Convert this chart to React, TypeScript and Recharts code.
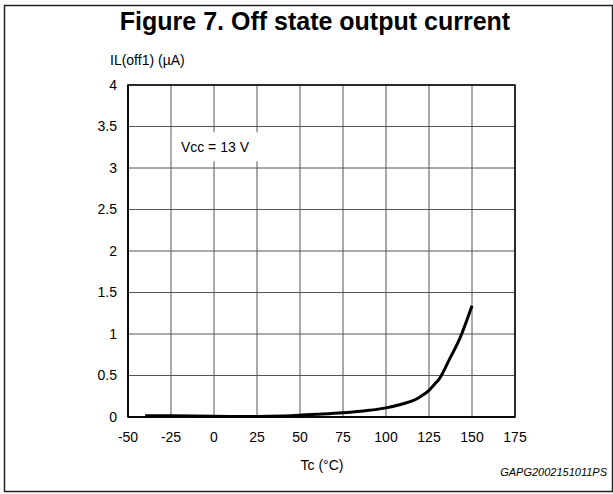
import React from 'react';
import { ComposedChart, Line, XAxis, YAxis, CartesianGrid, ReferenceArea } from 'recharts';

const temperatures = [-40, -25, 0, 25, 40, 50, 60, 75, 90, 100, 110, 116, 120, 125, 128, 131, 137, 143, 150];
const currents = [0.015, 0.014, 0.008, 0.006, 0.012, 0.022, 0.032, 0.05, 0.08, 0.11, 0.16, 0.2, 0.245, 0.32, 0.39, 0.46, 0.7, 0.95, 1.34];
const xTicks = [-50, -25, 0, 25, 50, 75, 100, 125, 150, 175];
const yTicks = [0, 0.5, 1, 1.5, 2, 2.5, 3, 3.5, 4];

const title = 'Figure 7. Off state output current';
const yLabel = 'IL(off1) (µA)';
const xLabel = 'Tc (°C)';
const code = 'GAPG2002151011PS';
const note = 'Vcc = 13 V';

const data = temperatures.map((t, i) => ({ t, v: currents[i] }));
const FONT = '"Liberation Sans", Arial, sans-serif';

export default function App() {
  return (
    <div style={{ position: 'absolute', left: 0, top: 0, width: 613, height: 494, background: '#fff', fontFamily: FONT }}>
      <svg width={613} height={494} style={{ position: 'absolute', left: 0, top: 0 }}>
        <rect x={4.5} y={5.5} width={608} height={486} fill="#fff" stroke="#222" strokeWidth={1.5} />
        <text x={315} y={30} textAnchor="middle" fontFamily={FONT} fontWeight="bold" fontSize={25} fill="#000">{title}</text>
        <text x={110} y={65} fontFamily={FONT} fontSize={14} fill="#000">{yLabel}</text>
        <text x={322} y={470} textAnchor="middle" fontFamily={FONT} fontSize={14} fill="#000">{xLabel}</text>
        <text x={607} y={476} textAnchor="end" fontFamily={FONT} fontStyle="italic" fontSize={11} fill="#000">{code}</text>
      </svg>
      <div style={{ position: 'absolute', left: 0, top: 0 }}>
        <ComposedChart width={613} height={494} data={data} margin={{ top: 85, right: 98, left: 28, bottom: 0 }}>
          <CartesianGrid stroke="#555" strokeWidth={1} />
          <XAxis
            dataKey="t"
            type="number"
            domain={[-50, 175]}
            ticks={xTicks}
            interval={0}
            tickLine={false}
            axisLine={{ stroke: '#000', strokeWidth: 1.5 }}
            tick={{ fill: '#000', fontSize: 14, fontFamily: FONT }}
            tickMargin={9}
            height={77}
          />
          <YAxis
            type="number"
            domain={[0, 4]}
            ticks={yTicks}
            interval={0}
            tickLine={false}
            axisLine={{ stroke: '#000', strokeWidth: 1.5 }}
            tick={{ fill: '#000', fontSize: 14, fontFamily: FONT }}
            tickMargin={5}
            width={100}
          />
          <ReferenceArea x1={-50} x2={175} y1={0} y2={4} fill="none" stroke="#000" strokeWidth={1.5} ifOverflow="visible" />
          <ReferenceArea
            x1={-24.5}
            x2={25.6}
            y1={3.08}
            y2={3.43}
            fill="#fff"
            fillOpacity={1}
            stroke="none"
            label={{ value: note, position: 'center', fill: '#000', fontSize: 14, fontFamily: FONT }}
          />
          <Line type="monotone" dataKey="v" stroke="#000" strokeWidth={3} dot={false} isAnimationActive={false} />
        </ComposedChart>
      </div>
    </div>
  );
}
